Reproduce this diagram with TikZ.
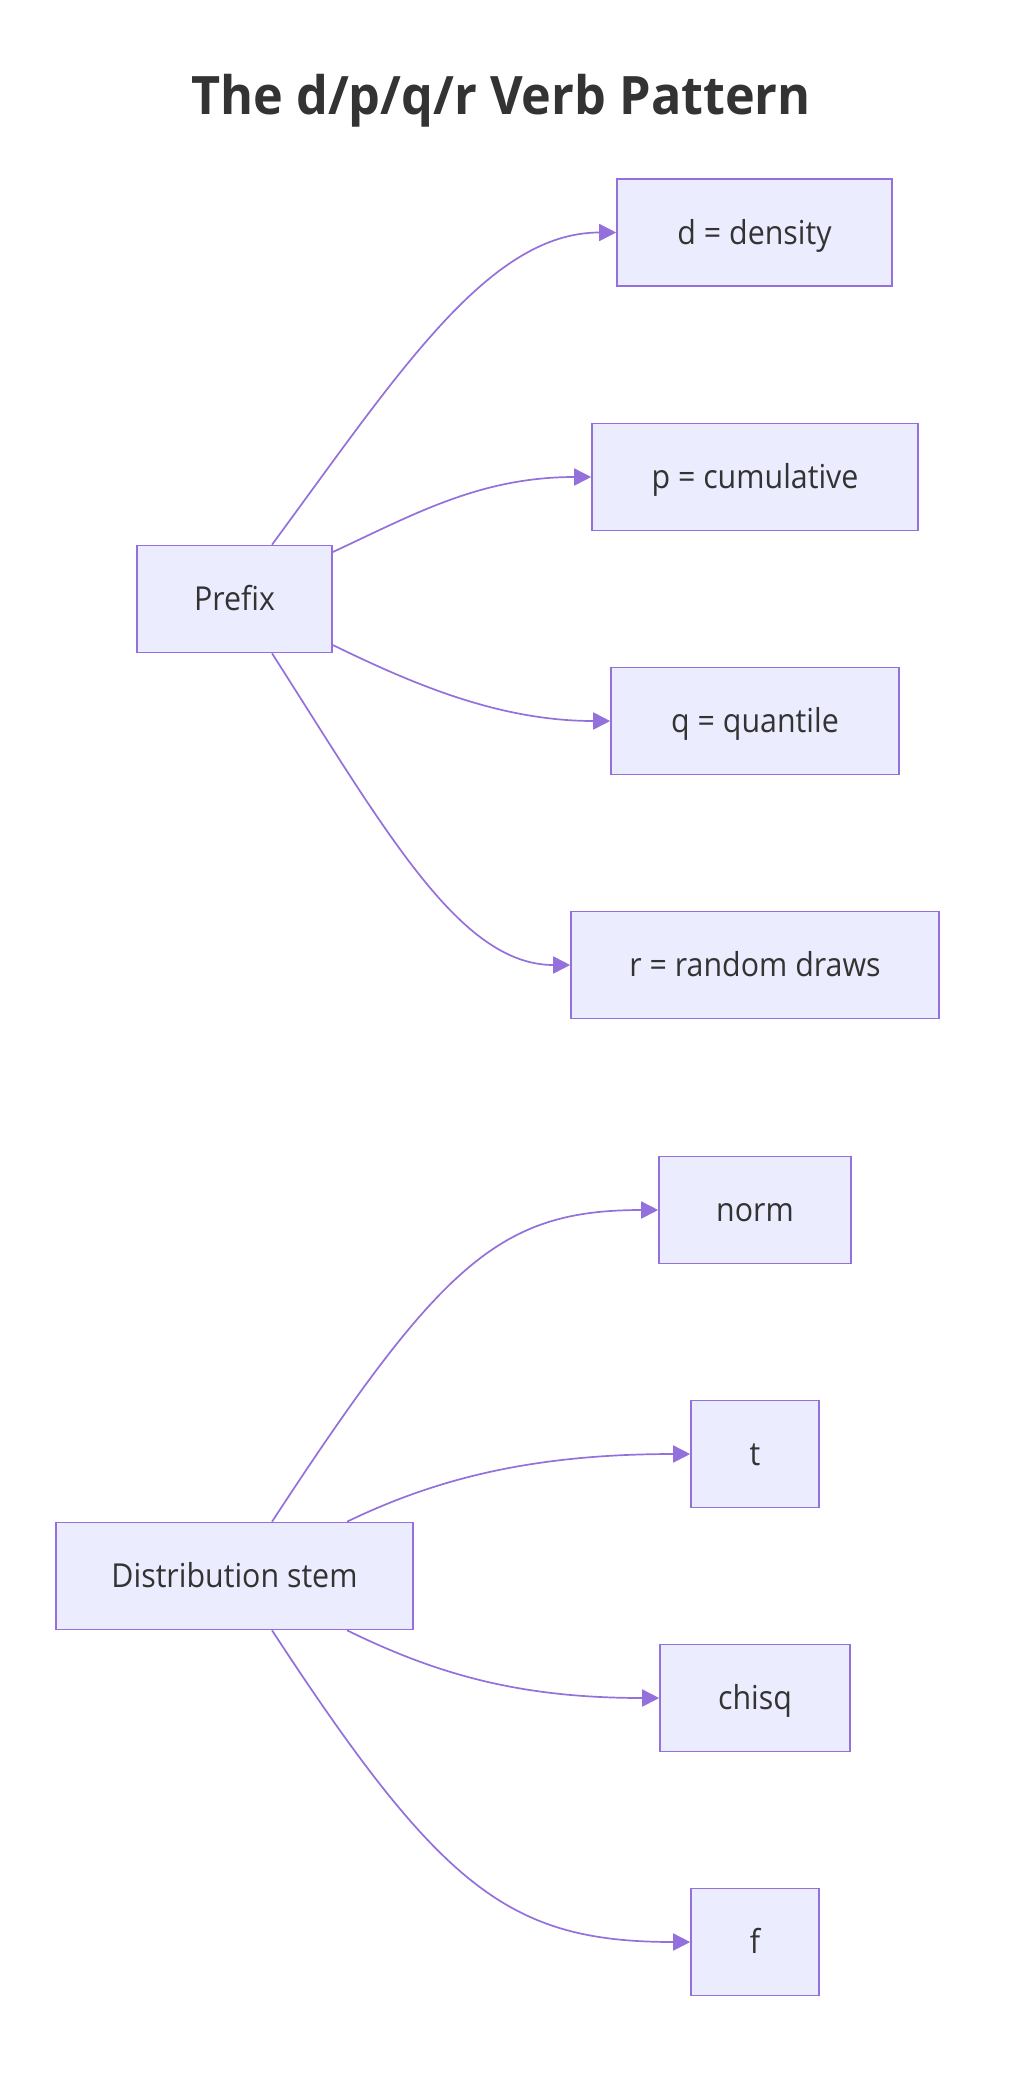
\documentclass[tikz,border=0pt]{standalone}
\usepackage{fontspec}
\setmainfont{Open Sans}[FakeStretch=0.92]
\newfontfamily\titlefont{Open Sans}[FakeStretch=0.95]
\usetikzlibrary{arrows.meta}
\definecolor{nodefill}{HTML}{ECECFF}
\definecolor{nodeline}{HTML}{9370DB}
\definecolor{txt}{HTML}{333333}
\begin{document}
\begin{tikzpicture}[x=1pt,y=-1pt,
  box/.style={draw=nodeline, fill=nodefill, line width=1.6pt, text=txt,
    font=\fontsize{33}{38}\selectfont, minimum height=107pt, inner sep=0pt,
    text height=23.5pt, text depth=0pt, anchor=center},
  edge/.style={draw=nodeline, line width=1.7pt, -{Triangle[length=17pt,width=17pt]}}]
\useasboundingbox (0,0) rectangle (1010,2082);
\node[font=\titlefont\bfseries\fontsize{53}{60}\selectfont, text=txt, anchor=base, inner sep=0pt] (title) at (501,115) {The d/p/q/r Verb Pattern};
% first cluster
\node[box, minimum width=195pt] (pre) at (234.5,599) {Prefix};
\node[box, minimum width=275pt] (d) at (754.5,232.5) {d = density};
\node[box, minimum width=326pt] (p) at (755,477) {p = cumulative};
\node[box, minimum width=288pt] (q) at (755,721) {q = quantile};
\node[box, minimum width=368pt] (r) at (755,965) {r = random draws};
% second cluster
\node[box, minimum width=357pt] (dist) at (234.5,1576) {Distribution stem};
\node[box, minimum width=192pt] (norm) at (755,1210) {norm};
\node[box, minimum width=128pt] (t) at (755,1454) {t};
\node[box, minimum width=190pt] (chisq) at (755,1698) {chisq};
\node[box, minimum width=128pt] (f) at (755,1942) {f};
% edges
\draw[edge] ([xshift=37.5pt]pre.north) .. controls +(128,-174) and +(-127,0) .. (d.west);
\draw[edge] ([yshift=47pt]pre.east) .. controls +(80,-37) and +(-112,0) .. (p.west);
\draw[edge] ([yshift=-46pt]pre.east) .. controls +(80,39) and +(-111,0) .. (q.west);
\draw[edge] ([xshift=37.5pt]pre.south) .. controls +(115,180) and +(-110,0) .. (r.west);
\draw[edge] ([xshift=37.5pt]dist.north) .. controls +(170,-260) and +(-158,0) .. (norm.west);
\draw[edge] ([xshift=112.5pt]dist.north) .. controls +(95,-46) and +(-150,0) .. (t.west);
\draw[edge] ([xshift=112.5pt]dist.south) .. controls +(90,44) and +(-140,0) .. (chisq.west);
\draw[edge] ([xshift=37.5pt]dist.south) .. controls +(170,260) and +(-180,0) .. (f.west);
\end{tikzpicture}
\end{document}
